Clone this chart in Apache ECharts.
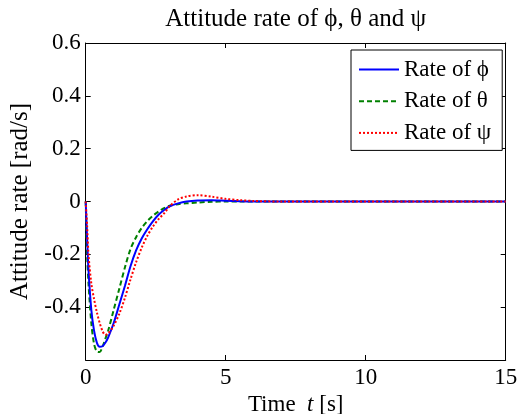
<!DOCTYPE html>
<html>
<head>
<meta charset="utf-8">
<script src="https://cdn.jsdelivr.net/npm/echarts@6/dist/echarts.min.js"></script>
<style>
html,body{margin:0;padding:0;background:#fff;}
#chart{width:525px;height:414px;}
</style>
</head>
<body>
<div id="chart"></div>
<script>
// Time samples [s]
const timeS = [0,0.05,0.1,0.2,0.3,0.4,0.5,0.6,0.7,0.8,1.0,1.2,1.4,1.6,1.8,2.0,2.2,2.4,2.6,2.8,3.0,3.3,3.6,4.0,4.5,5.0,5.5,6.0,7.0,15];
// Attitude rates [rad/s]
const ratePhi   = [0,-0.14,-0.26,-0.41,-0.49,-0.535,-0.55,-0.548,-0.535,-0.515,-0.46,-0.39,-0.32,-0.245,-0.185,-0.14,-0.105,-0.075,-0.05,-0.032,-0.018,-0.007,0,0.004,0.005,0.003,0.001,0,0,0];
const rateTheta = [0,-0.2,-0.31,-0.46,-0.54,-0.568,-0.57,-0.55,-0.52,-0.49,-0.41,-0.33,-0.25,-0.18,-0.135,-0.1,-0.074,-0.054,-0.038,-0.025,-0.016,-0.01,-0.007,-0.004,-0.001,0,0,0,0,0];
const ratePsi   = [0,-0.09,-0.2,-0.31,-0.37,-0.42,-0.46,-0.49,-0.505,-0.5,-0.47,-0.425,-0.365,-0.295,-0.23,-0.175,-0.13,-0.095,-0.067,-0.045,-0.018,0.008,0.019,0.024,0.018,0.01,0.005,0.002,0,0];
const seriesNames = ['Rate of \u03D5','Rate of \u03B8','Rate of \u03C8'];
const titleText = 'Attitude rate of \u03D5, \u03B8 and \u03C8';
const xTicks = {min:0, max:15, interval:5};
const yTicks = {min:-0.6, max:0.6, interval:0.2};

const FONT = '"Liberation Serif", "Times New Roman", serif';
const pairs = (vals) => timeS.map((t,i)=>[t, vals[i]]);

const chart = echarts.init(document.getElementById('chart'), null, {renderer:'canvas'});
const tickStyle = {show:true, inside:true, length:5, lineStyle:{color:'#000', width:1}};
const lineSt = {show:true, onZero:false, lineStyle:{color:'#000', width:1}};
chart.setOption({
  animation:false,
  backgroundColor:'#fff',
  title:{
    text:titleText, left:295.7, top:7, textAlign:'center', padding:0,
    textStyle:{fontFamily:FONT, fontSize:25, fontWeight:'normal', color:'#000'}
  },
  grid:{left:85.7, right:19.3, top:43, bottom:54, containLabel:false, outerBoundsMode:'none'},
  legend:{
    orient:'vertical', left:351, top:50,
    backgroundColor:'#fff', borderColor:'#000', borderWidth:1, borderRadius:0,
    padding:[8,11,6,7], itemGap:8.7, itemWidth:40, itemHeight:14,
    itemStyle:{opacity:0, borderWidth:0},
    textStyle:{fontFamily:FONT, fontSize:23, color:'#000', lineHeight:23},
    data:seriesNames
  },
  xAxis:[{
    type:'value', min:xTicks.min, max:xTicks.max, interval:xTicks.interval,
    name:'Time  {i|t} [s]', nameLocation:'middle', nameGap:28,
    nameTextStyle:{fontFamily:FONT, fontSize:23, color:'#000', rich:{i:{fontFamily:FONT, fontSize:23, fontStyle:'italic', color:'#000'}}},
    axisLine:lineSt, axisTick:tickStyle, splitLine:{show:false},
    axisLabel:{fontFamily:FONT, fontSize:23, color:'#000', margin:6}
  },{
    type:'value', position:'top', min:xTicks.min, max:xTicks.max, interval:xTicks.interval,
    axisLine:lineSt, axisTick:tickStyle, splitLine:{show:false}, axisLabel:{show:false}
  }],
  yAxis:[{
    type:'value', min:yTicks.min, max:yTicks.max, interval:yTicks.interval,
    name:'Attitude rate [rad/s]', nameLocation:'middle', nameGap:51,
    nameTextStyle:{fontFamily:FONT, fontSize:25, color:'#000'},
    axisLine:lineSt, axisTick:tickStyle, splitLine:{show:false},
    axisLabel:{fontFamily:FONT, fontSize:23, color:'#000', margin:5,
      formatter:(v)=> Math.abs(v-yTicks.min)<1e-9 ? '' : String(+v.toFixed(1))}
  },{
    type:'value', position:'right', min:yTicks.min, max:yTicks.max, interval:yTicks.interval,
    axisLine:lineSt, axisTick:tickStyle, splitLine:{show:false}, axisLabel:{show:false}
  }],
  series:[
    {name:seriesNames[0], type:'line', data:pairs(ratePhi), symbol:'none', smooth:0.3,
     lineStyle:{color:'#0000FF', width:2, type:'solid'}, itemStyle:{color:'#0000FF'}, z:4},
    {name:seriesNames[1], type:'line', data:pairs(rateTheta), symbol:'none', smooth:0.3,
     lineStyle:{color:'#008000', width:2, type:[5,3]}, itemStyle:{color:'#008000'}, z:3},
    {name:seriesNames[2], type:'line', data:pairs(ratePsi), symbol:'none', smooth:0.3,
     lineStyle:{color:'#FF0000', width:2, type:[2,2]}, itemStyle:{color:'#FF0000'}, z:5}
  ]
});
</script>
</body>
</html>
